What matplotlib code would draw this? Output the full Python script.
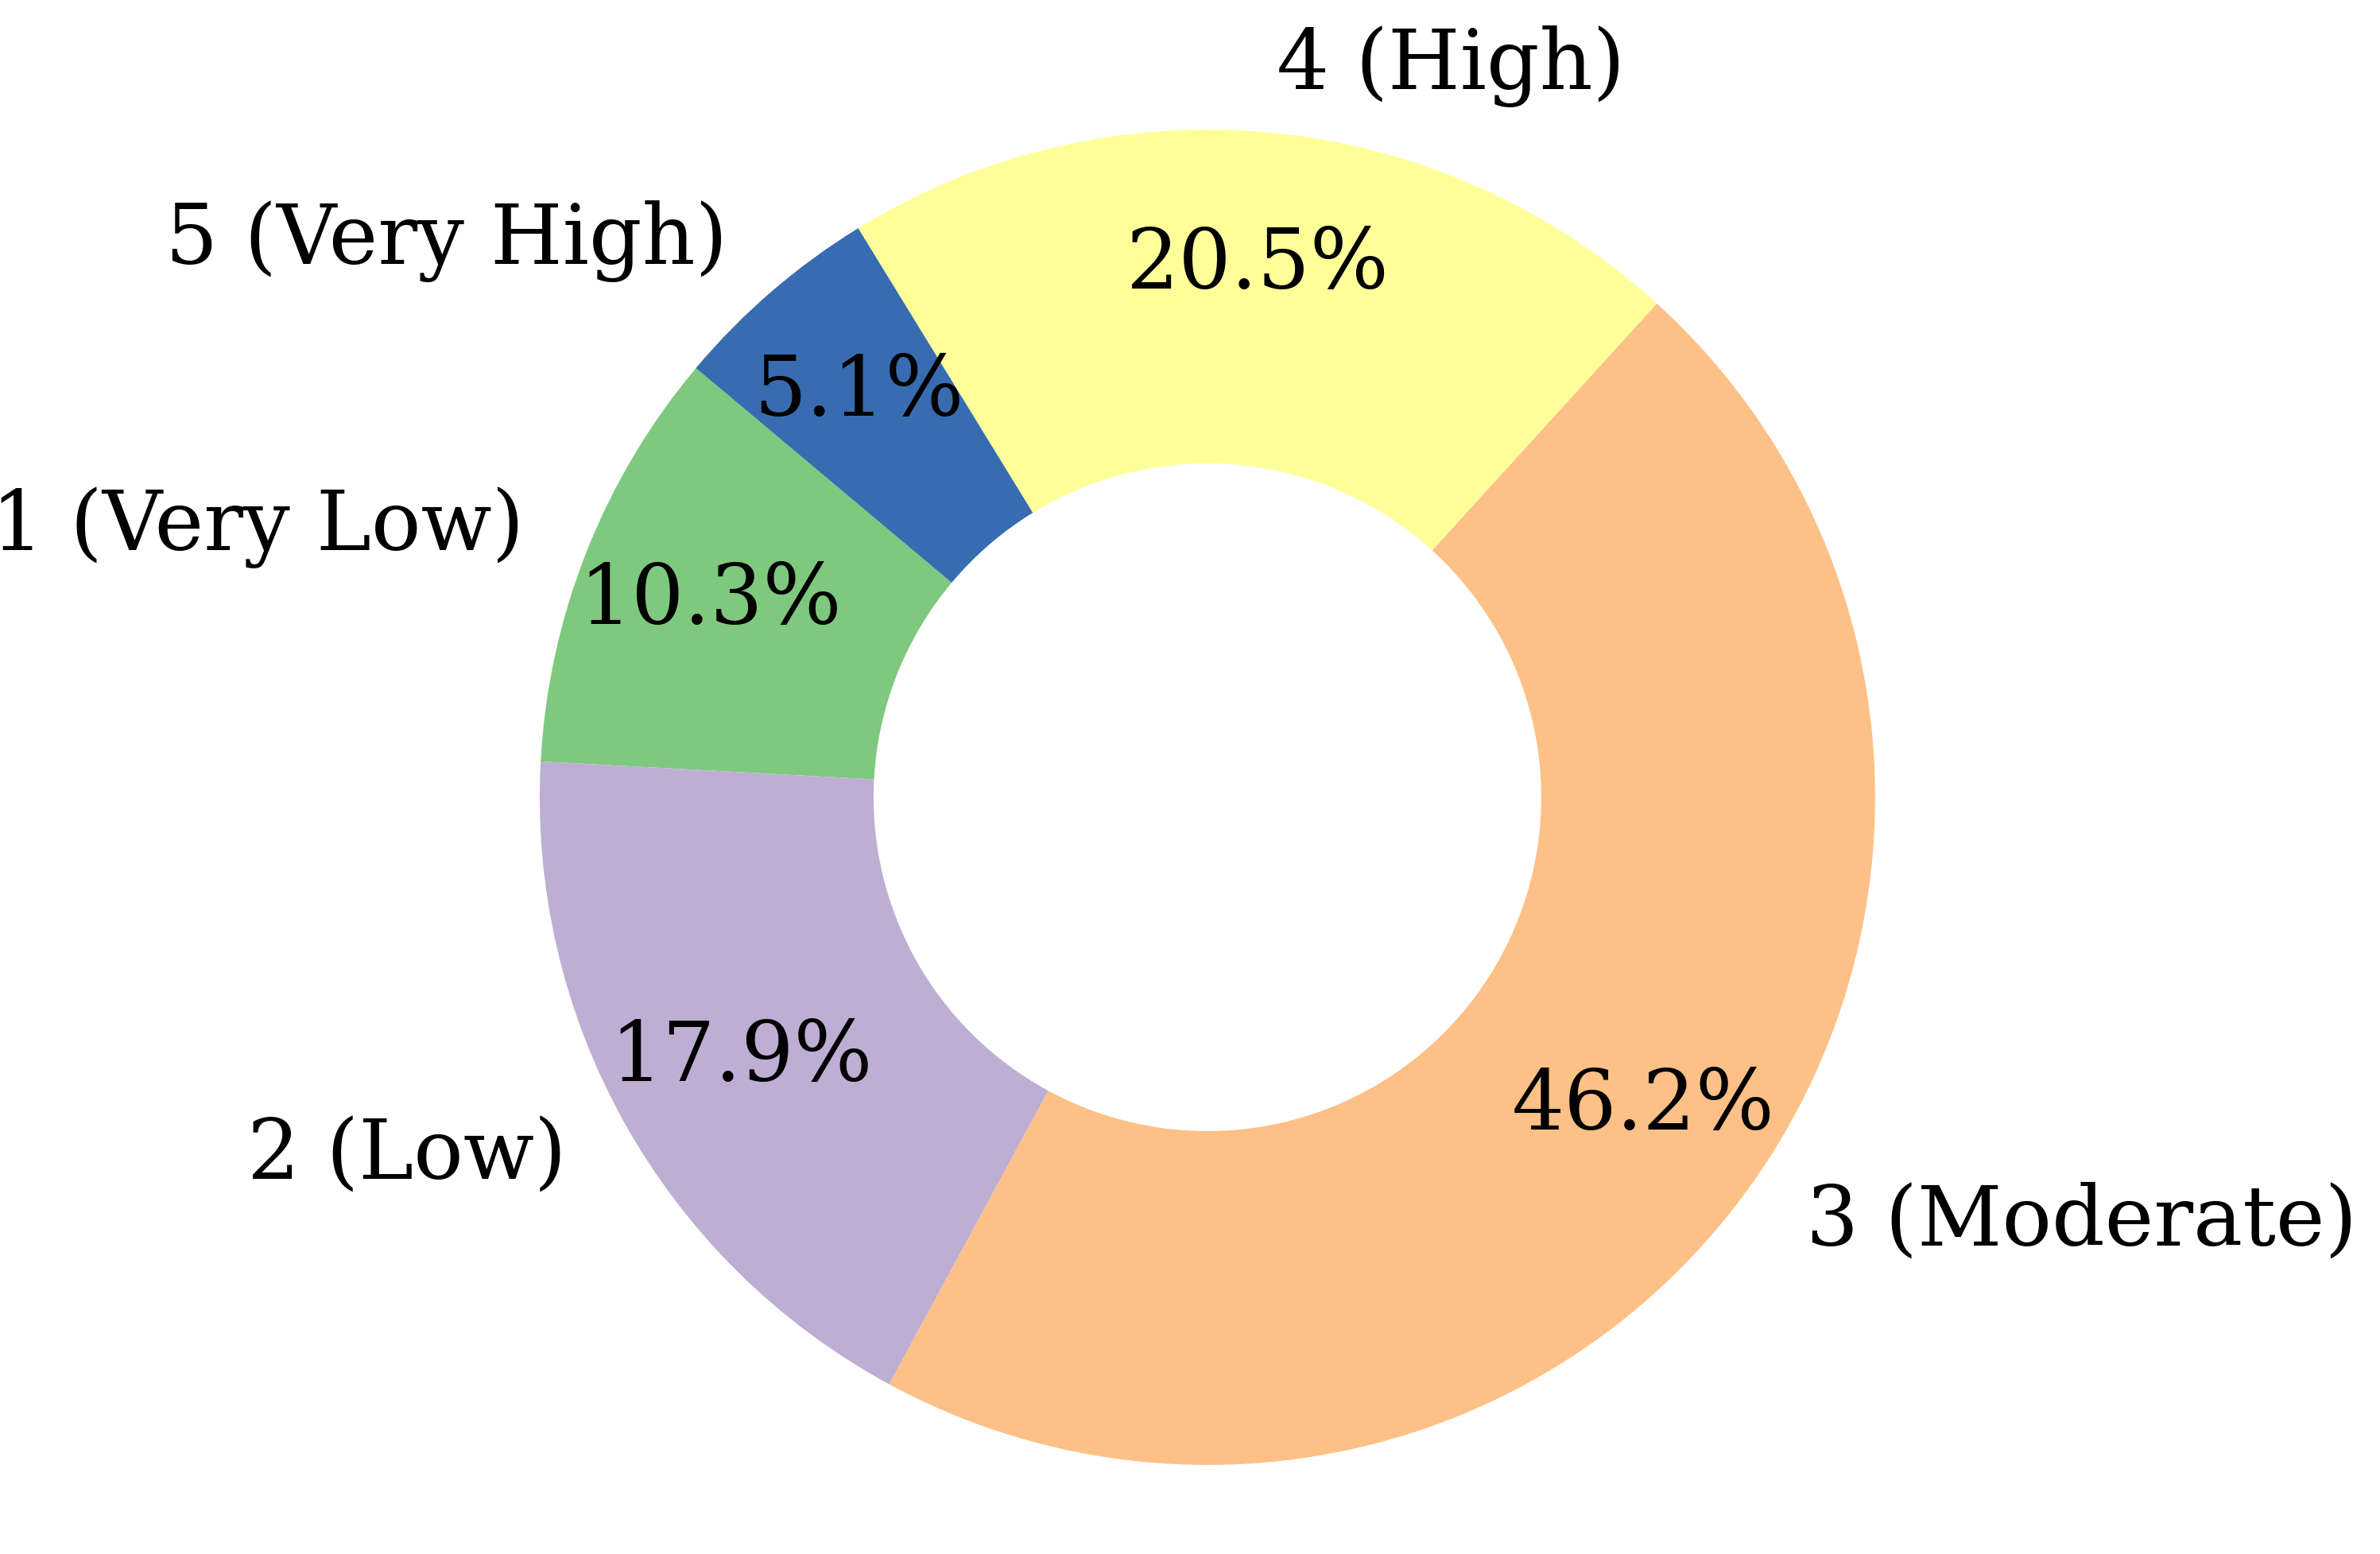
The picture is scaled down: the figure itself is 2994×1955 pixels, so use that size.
import matplotlib
matplotlib.use('Agg')
import matplotlib.pyplot as plt

labels = ['1 (Very Low)', '2 (Low)', '3 (Moderate)', '4 (High)', '5 (Very High)']
counts = [4, 7, 18, 8, 2]
colors = ['#7fc97f', '#beaed4', '#fdc086', '#ffff99', '#386cb0']

plt.rcParams['font.family'] = 'DejaVu Serif'

fig = plt.figure(figsize=(2995 / 300, 1955 / 300), dpi=300)
ax = fig.add_axes([0.2267, 0.0573, 0.5609, 0.8593])

ax.pie(counts, labels=labels, colors=colors, autopct='%1.1f%%',
       startangle=140, pctdistance=0.8,
       wedgeprops=dict(width=0.5),
       textprops=dict(fontsize=25))
ax.set_xlim(-1, 1)
ax.set_ylim(-1, 1)

fig.savefig('out.png', dpi=300)
